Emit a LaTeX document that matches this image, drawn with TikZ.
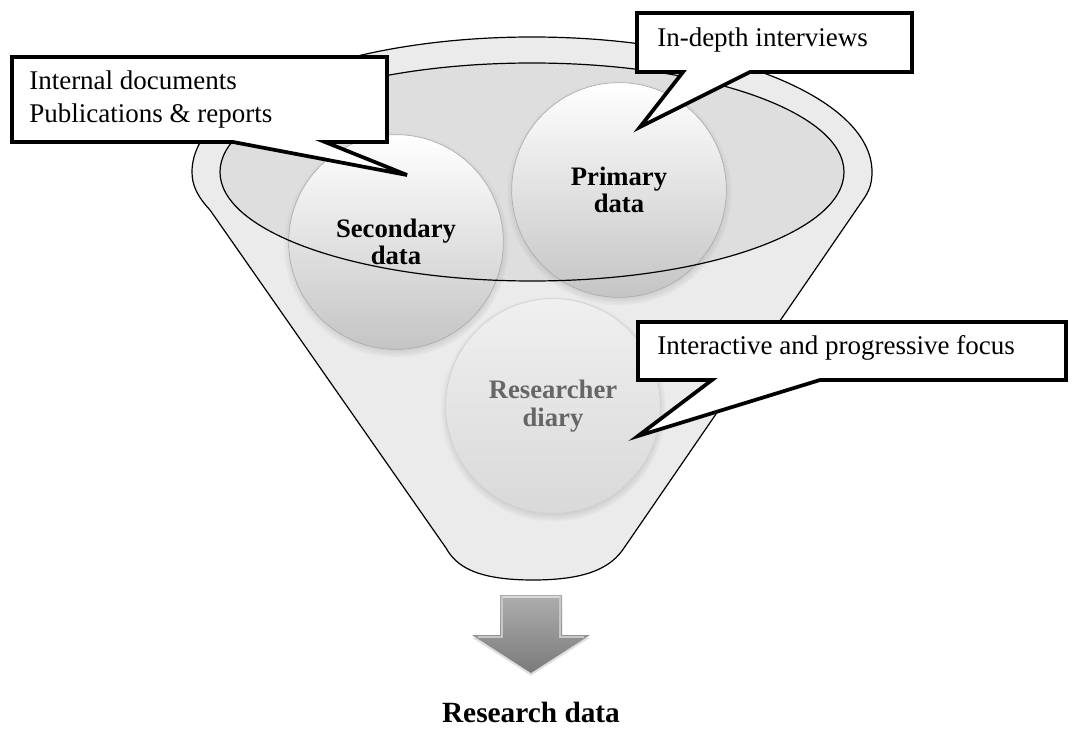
\documentclass[tikz,border=0pt]{standalone}
\usepackage{fontspec}
\setmainfont{Liberation Serif}
\usetikzlibrary{shadows}
\begin{document}
\begin{tikzpicture}[x=0.75pt,y=-0.75pt,
  rim/.style={fill=black!8, draw=black, line width=0.9pt},
  bowl/.style={fill=black!13},
  bowlline/.style={draw=black, line width=0.9pt},
  ball/.style={circle, minimum size=161pt, inner sep=0pt, align=center,
    font=\fontsize{20}{20.5}\selectfont\bfseries,
    shading=axis, top color=white, middle color=white!96!black, bottom color=black!23,
    draw=black!32, line width=0.5pt,
    circular drop shadow={shadow xshift=0pt, shadow yshift=-2pt, shadow scale=1.05, opacity=0.5}},
  dimball/.style={ball, top color=black!6, middle color=black!9, bottom color=black!15,
    draw=black!18, text=black!60},
  bubble/.style={draw=black, fill=white, line width=2.8pt, line join=miter},
  bubbletext/.style={anchor=base west, inner sep=0pt, font=\fontsize{20.25}{24}\selectfont},
  blockarrow/.style={shading=axis, top color=black!32, bottom color=black!52,
    drop shadow={shadow xshift=0pt, shadow yshift=-2pt, opacity=0.25}}
]
\useasboundingbox (0,0) rectangle (1072,745);
\fill[white] (0,0) rectangle (1072,745);

% funnel body
\path[rim] (210,210) .. controls (197,196) and (192,185) .. (192,172)
  .. controls (192,97) and (344,37) .. (532,37)
  .. controls (720,37) and (872,97) .. (872,172)
  .. controls (872,182) and (870,189) .. (865,197)
  -- (624,548) .. controls (612,566) and (590,580) .. (533,580)
  .. controls (476,580) and (456,566) .. (446,548) -- cycle;

% mouth of the funnel
\path[bowl] (532,172) ellipse [x radius=312, y radius=109];

% the three sources
\node[dimball] (diary) at (553,406) {Researcher\\diary};
\node[ball] (secondary) at (396,242) {Secondary\\data};
\node[ball] (primary) at (619,190) {Primary\\data};

% rim of the mouth, drawn over the sources
\path[bowlline] (532,172) ellipse [x radius=312, y radius=109];

% speech bubbles
\path[bubble] (12,57) -- (387,57) -- (387,142) -- (325,142) -- (407,175)
  -- (233,142) -- (12,142) -- cycle;
\node[bubbletext] (docs) at (29,90) {Internal documents};
\node[bubbletext] (pubs) at (29,123) {Publications \& reports};

\path[bubble] (637,13) -- (912,13) -- (912,72) -- (750,72) -- (640,127)
  -- (683,72) -- (637,72) -- cycle;
\node[bubbletext] (interviews) at (657,47) {In-depth interviews};

\path[bubble] (638,322) -- (1066,322) -- (1066,380) -- (820,380) -- (638,436)
  -- (712,380) -- (638,380) -- cycle;
\node[bubbletext] (focus) at (657,355) {Interactive and progressive focus};

% output arrow
\path[blockarrow] (500,595) -- (562,595) -- (562,635) -- (590,635) -- (531,673)
  -- (472,635) -- (500,635) -- cycle;
\draw[white!85!black, line width=1.2pt, line cap=round]
  (502,597) -- (560,597);
\draw[black!22, line width=1pt] (502,597) -- (502,637) -- (478,637);
\draw[black!22, line width=1pt] (560,597) -- (560,637) -- (584,637);

\node[anchor=base, inner sep=0pt, font=\fontsize{22}{26}\selectfont\bfseries]
  (result) at (531,722) {Research data};
\end{tikzpicture}
\end{document}
